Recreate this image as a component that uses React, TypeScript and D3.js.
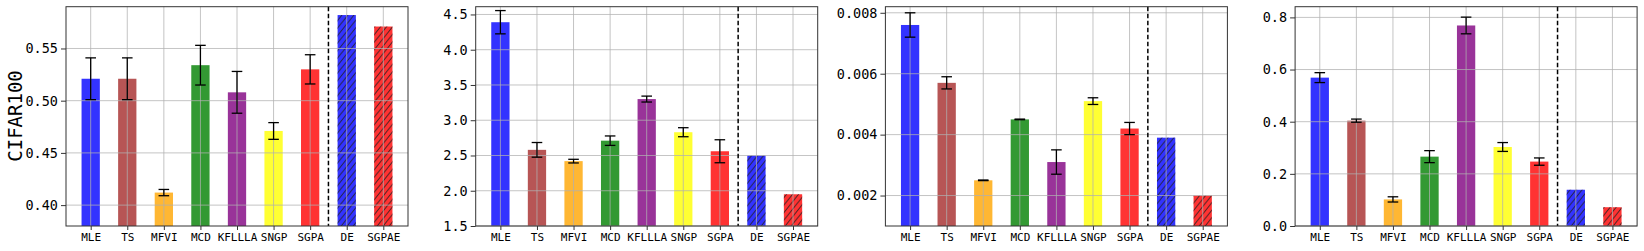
import React, { useEffect, useRef } from 'react';
import * as d3 from 'd3';

const methods = ['MLE', 'TS', 'MFVI', 'MCD', 'KFLLLA', 'SNGP', 'SGPA', 'DE', 'SGPAE'];
const barColors = ['blue', 'brown', 'orange', 'green', 'purple', 'yellow', 'red', 'blue', 'red'];
const hatched = [false, false, false, false, false, false, false, true, true];

// panel 1: CIFAR100 accuracy
const accMean = [0.521, 0.521, 0.412, 0.534, 0.508, 0.471, 0.530, 0.582, 0.571];
const accErr = [0.020, 0.020, 0.003, 0.019, 0.020, 0.008, 0.014, null, null];
const accTicks = [0.40, 0.45, 0.50, 0.55];

// panel 2
const nllMean = [4.39, 2.58, 2.42, 2.71, 3.30, 2.83, 2.56, 2.50, 1.95];
const nllErr = [0.165, 0.104, 0.026, 0.067, 0.042, 0.064, 0.163, null, null];
const nllTicks = [1.5, 2.0, 2.5, 3.0, 3.5, 4.0, 4.5];

// panel 3
const eceMean = [0.0076, 0.0057, 0.0025, 0.0045, 0.0031, 0.0051, 0.0042, 0.0039, 0.0020];
const eceErr = [0.0004, 0.0002, 0.00001, 0.00001, 0.0004, 0.00011, 0.0002, null, null];
const eceTicks = [0.002, 0.004, 0.006, 0.008];

// panel 4
const mceMean = [0.569, 0.404, 0.102, 0.266, 0.769, 0.303, 0.247, 0.139, 0.072];
const mceErr = [0.019, 0.006, 0.010, 0.023, 0.032, 0.017, 0.014, null, null];
const mceTicks = [0.0, 0.2, 0.4, 0.6, 0.8];

const panels = [
  { mean: accMean, err: accErr, ticks: accTicks, domain: [0.38, 0.59], fmt: '.2f', label: 'CIFAR100' },
  { mean: nllMean, err: nllErr, ticks: nllTicks, domain: [1.5, 4.61], fmt: '.1f', label: '' },
  { mean: eceMean, err: eceErr, ticks: eceTicks, domain: [0.001, 0.0082], fmt: '.3f', label: '' },
  { mean: mceMean, err: mceErr, ticks: mceTicks, domain: [0, 0.841], fmt: '.1f', label: '' },
];

const W = 1644;
const H = 251;
const top = 6.7;
const bottom = 226;
const plotW = 342;
const font = "'DejaVu Sans Mono', monospace";

const App = () => {
  const ref = useRef<SVGSVGElement>(null);

  useEffect(() => {
    if (!ref.current) return;
    const svg = d3.select(ref.current);
    svg.selectAll('*').remove();

    // '//' hatch
    const defs = svg.append('defs');
    defs.append('pattern')
      .attr('id', 'hatch')
      .attr('patternUnits', 'userSpaceOnUse')
      .attr('width', 6)
      .attr('height', 7.5)
      .append('path')
      .attr('d', 'M0,7.5 L6,0 M-1.2,1.5 L1.2,-1.5 M4.8,9 L7.2,6')
      .attr('stroke', '#222')
      .attr('stroke-opacity', 0.85)
      .attr('stroke-width', 1);

    panels.forEach((p, i) => {
      const left = 66 + i * 409.7;
      const g = svg.append('g');

      const x = d3.scaleLinear().domain([-0.675, 8.675]).range([left, left + plotW]);
      const y = d3.scaleLinear().domain(p.domain).range([bottom, top]);
      const bw = x(0.5) - x(0);

      // bars
      methods.forEach((m, j) => {
        g.append('rect')
          .attr('x', x(j) - bw / 2)
          .attr('y', y(p.mean[j]))
          .attr('width', bw)
          .attr('height', bottom - y(p.mean[j]))
          .attr('fill', barColors[j])
          .attr('fill-opacity', 0.8);
        if (hatched[j]) {
          g.append('rect')
            .attr('x', x(j) - bw / 2)
            .attr('y', y(p.mean[j]))
            .attr('width', bw)
            .attr('height', bottom - y(p.mean[j]))
            .attr('fill', 'url(#hatch)');
        }
      });

      // grid, above the bars like matplotlib's default
      g.append('g')
        .selectAll('line')
        .data(methods)
        .enter().append('line')
        .attr('x1', (_, j) => x(j)).attr('x2', (_, j) => x(j))
        .attr('y1', top).attr('y2', bottom)
        .attr('stroke', '#b0b0b0').attr('stroke-opacity', 0.75).attr('stroke-width', 1);
      g.append('g')
        .selectAll('line')
        .data(p.ticks)
        .enter().append('line')
        .attr('x1', left).attr('x2', left + plotW)
        .attr('y1', (d) => y(d)).attr('y2', (d) => y(d))
        .attr('stroke', '#b0b0b0').attr('stroke-opacity', 0.75).attr('stroke-width', 1);

      // error bars
      methods.forEach((m, j) => {
        const e = p.err[j];
        if (e === null) return;
        const cx = x(j);
        const y0 = y(p.mean[j] - e);
        const y1 = y(p.mean[j] + e);
        g.append('line').attr('x1', cx).attr('x2', cx).attr('y1', y0).attr('y2', y1)
          .attr('stroke', 'black').attr('stroke-width', 1.3);
        [y0, y1].forEach((yy) => {
          g.append('line').attr('x1', cx - 5.3).attr('x2', cx + 5.3).attr('y1', yy).attr('y2', yy)
            .attr('stroke', 'black').attr('stroke-width', 1.3);
        });
      });

      // separator between single models and ensembles
      g.append('line')
        .attr('x1', x(6.5)).attr('x2', x(6.5))
        .attr('y1', top).attr('y2', bottom)
        .attr('stroke', 'black').attr('stroke-width', 1.5)
        .attr('stroke-dasharray', '4.5,2.5');

      // axes
      const yAxis = g.append('g')
        .attr('transform', `translate(${left},0)`)
        .call(d3.axisLeft(y).tickValues(p.ticks).tickFormat(d3.format(p.fmt)).tickSize(5).tickSizeOuter(0));
      yAxis.select('.domain').remove();
      yAxis.selectAll('line').attr('stroke', '#333');
      yAxis.selectAll('text')
        .attr('font-family', font).attr('font-size', 13.5).attr('fill', '#000')
        .attr('x', -8);

      const xAxis = g.append('g')
        .attr('transform', `translate(0,${bottom})`)
        .call(d3.axisBottom(x).tickValues(d3.range(methods.length)).tickFormat((d) => methods[+d]).tickSize(4));
      xAxis.select('.domain').remove();
      xAxis.selectAll('line').attr('stroke', '#333');
      xAxis.selectAll('text')
        .attr('font-family', font).attr('font-size', 11).attr('fill', '#000')
        .attr('y', 7);

      // frame
      g.append('rect')
        .attr('x', left).attr('y', top)
        .attr('width', plotW).attr('height', bottom - top)
        .attr('fill', 'none').attr('stroke', '#333').attr('stroke-width', 1);

      if (p.label) {
        g.append('text')
          .attr('transform', `translate(22,116) rotate(-90)`)
          .attr('text-anchor', 'middle')
          .attr('font-family', font).attr('font-size', 19).attr('fill', '#000')
          .text(p.label);
      }
    });
  }, []);

  return (
    <div style={{ position: 'absolute', left: 0, top: 0 }}>
      <svg ref={ref} width={W} height={H} style={{ display: 'block', background: 'white' }}></svg>
    </div>
  );
};

export default App;
